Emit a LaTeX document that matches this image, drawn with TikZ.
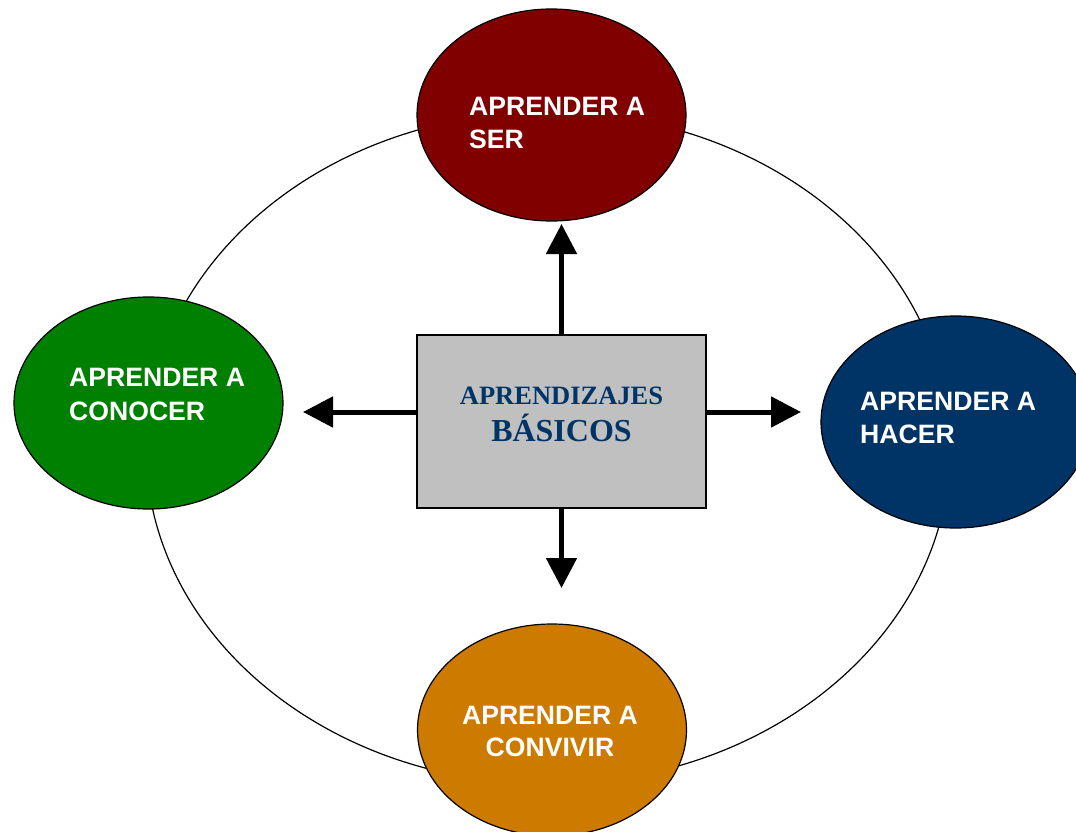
\documentclass[tikz,border=0pt]{standalone}
\usepackage{fontspec}
\setmainfont{Liberation Serif}
\newfontfamily\arialfont{Liberation Sans}
\usetikzlibrary{shapes.geometric,arrows.meta}
\definecolor{serred}{HTML}{800000}
\definecolor{conocergreen}{HTML}{008000}
\definecolor{hacerblue}{HTML}{003366}
\definecolor{convivirorange}{HTML}{CC7A00}
\definecolor{boxgray}{HTML}{C0C0C0}
\definecolor{basblue}{HTML}{003366}
\begin{document}
\begin{tikzpicture}[x=1pt,y=-1pt,
    blob/.style={ellipse, draw, line width=1.2pt, minimum width=269pt, minimum height=212pt, inner sep=0pt},
    blobtext/.style={text=white, font=\arialfont\bfseries\fontsize{26.6}{33}\selectfont, inner sep=0pt},
    boxtext/.style={text=basblue, font=\bfseries, inner sep=0pt, anchor=base},
    arr/.style={line width=5pt, -{Triangle[length=30pt,width=30pt]}}]
    \useasboundingbox (0,0) rectangle (1076,832);
    \node[ellipse, draw, line width=1.2pt, minimum width=804pt, minimum height=672pt] (ring) at (548,448) {};
    \node[blob, fill=serred] (ser) at (551.5,115) {};
    \node[blob, fill=conocergreen] (conocer) at (148.5,403) {};
    \node[blob, fill=hacerblue] (hacer) at (955.5,422) {};
    \node[blob, fill=convivirorange] (convivir) at (552,730) {};
    \node[blobtext, align=left, anchor=north west] (serlbl) at (469,97) {APRENDER A\\SER};
    \node[blobtext, align=left, anchor=north west, font=\arialfont\bfseries\fontsize{26.6}{34}\selectfont] (conocerlbl) at (69,368) {APRENDER A\\CONOCER};
    \node[blobtext, align=left, anchor=north west] (hacerlbl) at (860,392) {APRENDER A\\HACER};
    \node[blobtext, align=center, anchor=north, font=\arialfont\bfseries\fontsize{26.6}{32}\selectfont] (convivirlbl) at (550,706) {APRENDER A\\CONVIVIR};
    \node[draw, line width=1.5pt, fill=boxgray, minimum width=289pt, minimum height=173pt] (centro) at (561.5,421.5) {};
    \node[boxtext, font=\bfseries\fontsize{26.5}{30}\selectfont] (aprlbl) at (561.5,404) {APRENDIZAJES};
    \node[boxtext, font=\bfseries\fontsize{32}{36}\selectfont] (baslbl) at (561.5,441) {BÁSICOS};
    \coordinate (up) at (561.5,224);
    \coordinate (down) at (561.5,588);
    \coordinate (left) at (303,412);
    \coordinate (right) at (801,412);
    \draw[arr] (centro.north) -- (up);
    \draw[arr] (centro.south) -- (down);
    \draw[arr] (centro.west |- left) -- (left);
    \draw[arr] (centro.east |- right) -- (right);
\end{tikzpicture}
\end{document}
